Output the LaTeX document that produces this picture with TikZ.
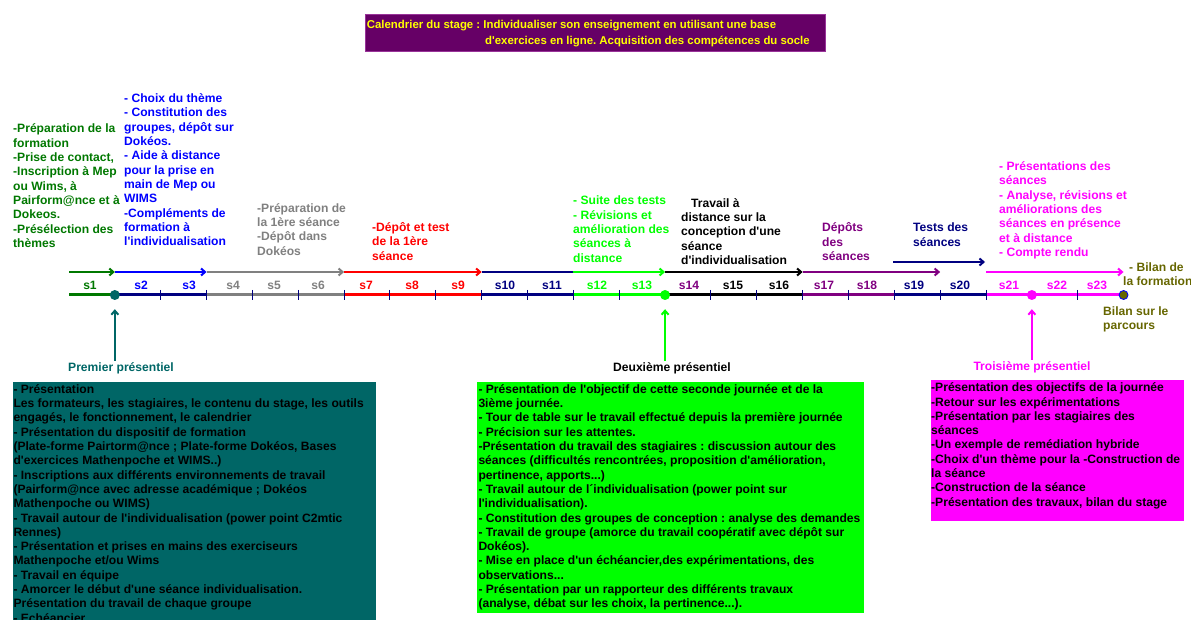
\documentclass[tikz,border=0pt]{standalone}
\usepackage{fontspec}
\setmainfont{Liberation Sans}[Ligatures=TeXOff]
\usetikzlibrary{arrows.meta}
\frenchspacing
\definecolor{tgreen}{RGB}{0,120,0}
\definecolor{tblue}{RGB}{0,0,255}
\definecolor{tgray}{RGB}{128,128,128}
\definecolor{tred}{RGB}{255,0,0}
\definecolor{tnavy}{RGB}{0,0,128}
\definecolor{tlime}{RGB}{0,255,0}
\definecolor{tpurple}{RGB}{128,0,128}
\definecolor{tmagenta}{RGB}{255,0,255}
\definecolor{tolive}{RGB}{102,102,0}
\definecolor{tteal}{RGB}{0,102,102}
\definecolor{ttitle}{RGB}{102,0,102}
\definecolor{ttitleborder}{RGB}{153,51,153}
\definecolor{tyellow}{RGB}{255,255,0}

\def\pas{45.85}

\begin{document}
\begin{tikzpicture}[x=1pt, y=-1pt,
    every node/.style={inner sep=0pt, font=\fontsize{12.1}{14.3}\selectfont\bfseries},
    txt/.style={anchor=base west, align=left},
    sem/.style={anchor=base},
    tl/.style={line width=3pt},
    fleche/.style={line width=2pt, -{Straight Barb[length=4pt,width=7pt]}},
    montee/.style={line width=2pt, -{Straight Barb[length=4pt,width=7pt]}, shorten >=9pt, shorten <=1pt},
    point/.style={circle, minimum size=10pt}]
  \useasboundingbox (0,0) rectangle (1191,620);
  \foreach \k in {0,...,23} {
    \coordinate (t\k) at ({69+\pas*\k},295);
    \coordinate (a\k) at ({69+\pas*\k},272);
  }
  \coordinate (ts1) at (893,262);
  \coordinate (ts2) at (985,262);

  \filldraw[fill=ttitle, draw=ttitleborder] (365,14) rectangle (825,51.7);
  \node[txt, text=tyellow, font=\fontsize{11.4}{16.7}\selectfont\bfseries] (titre) at (366.7,45) {Calendrier du stage : Individualiser son enseignement en utilisant une base\\\hspace*{118.3pt}d'exercices en ligne. Acquisition des compétences du socle};

  \node[txt, tgreen] (prep) at (13,247.4) {-Préparation de la\\formation\\-Prise de contact,\\-Inscription à Mep\\ou Wims, à\\Pairform@nce et à\\Dokeos.\\-Présélection des\\thèmes};
  \node[txt, tblue] (theme) at (124,245.7) {- Choix du thème\\- Constitution des\\groupes, dépôt sur\\Dokéos.\\- Aide à distance\\pour la prise en\\main de Mep ou\\WIMS\\-Compléments de\\formation à\\l'individualisation};
  \node[txt, tgray] (prem) at (257,255.2) {-Préparation de\\la 1ère séance\\-Dépôt dans\\Dokéos};
  \node[txt, tred] (depot) at (372,260.3) {-Dépôt et test\\de la 1ère\\séance};
  \node[txt, tlime] (suite) at (573,262.2) {- Suite des tests\\- Révisions et\\amélioration des\\séances à\\distance};
  \node[txt] (travail) at (681,264.5) {\hspace*{10pt}Travail à\\distance sur la\\conception d'une\\séance\\d'individualisation};
  \node[txt, tpurple] (depots) at (822,260.6) {Dépôts\\des\\séances};
  \node[txt, tnavy] (tests) at (913,246.3) {Tests des\\séances};
  \node[txt, tmagenta] (presseances) at (999,256.5) {- Présentations des\\séances\\- Analyse, révisions et\\améliorations des\\séances en présence\\et à distance\\- Compte rendu};
  \node[txt, tolive] (bilanform) at (1123,286) {\hspace*{6pt}- Bilan de\\la formation};
  \node[txt, tolive] (bilanparc) at (1103,330) {Bilan sur le\\parcours};

  \draw[fleche, tgreen] (a0) -- (a1);
  \draw[fleche, tblue] (a1) -- (a3);
  \draw[fleche, tgray] (a3) -- (a6);
  \draw[fleche, tred] (a6) -- (a9);
  \draw[line width=2pt, tnavy] (a9) -- (a11);
  \draw[fleche, tlime] (a11) -- (a13);
  \draw[fleche, black] (a13) -- (a16);
  \draw[fleche, tpurple] (a16) -- (a19);
  \draw[fleche, tnavy] (ts1) -- (ts2);
  \draw[fleche, tmagenta] (a20) -- (a23);

  \draw[tl, tgreen] (t0) -- (t1);
  \draw[tl, tnavy] (t1) -- (t3);
  \draw[tl, tgray] (t3) -- (t6);
  \draw[tl, tred] (t6) -- (t9);
  \draw[tl, tnavy] (t9) -- (t11);
  \draw[tl, tlime] (t11) -- (t13);
  \draw[tl, black] (t13) -- (t16);
  \draw[tl, tpurple] (t16) -- (t18);
  \draw[tl, tnavy] (t18) -- (t20);
  \draw[tl, tmagenta] (t20) -- (t23);
  \foreach \k in {2,...,12,14,15,...,20,22}
    \draw[tnavy, line width=1pt] ([yshift=5pt]t\k) -- ([yshift=-5pt]t\k);

  \foreach \n/\x/\c in {1/90/tgreen, 2/141/tblue, 3/189/tblue, 4/233/tgray, 5/274/tgray, 6/318/tgray, 7/366/tred, 8/412/tred, 9/458/tred, 10/505/tnavy, 11/552/tnavy, 12/597/tlime, 13/642/tlime, 14/689/tpurple, 15/733/black, 16/779/black, 17/824/tpurple, 18/867/tpurple, 19/914/tnavy, 20/960/tnavy, 21/1009/tmagenta, 22/1057/tmagenta, 23/1097/tmagenta}
    \node[sem, text=\c] (s\n) at (\x,290) {s\n};

  \node[point, fill=tteal] (d1) at (t1) {};
  \node[point, fill=tlime] (d2) at (t13) {};
  \node[point, fill=tmagenta] (d3) at (t21) {};
  \node[point, minimum size=9pt, fill=tolive, draw=tblue, line width=0.8pt] (fin) at (t23) {};

  \node[sem, tteal] (p1) at (121,371) {Premier présentiel};
  \node[sem] (p2) at (672,371) {Deuxième présentiel};
  \node[sem, tmagenta] (p3) at (1032,370) {Troisième présentiel};
  \draw[montee, tteal] (d1 |- p1.north) -- (d1);
  \draw[montee, tlime] (d2 |- p2.north) -- (d2);
  \draw[montee, tmagenta] (d3 |- p3.north) -- (d3);

  \fill[tteal] (12.7,381.7) rectangle (376,625);
  \node[txt] (jour1) at (13.3,622.1) {- Présentation\\Les formateurs, les stagiaires, le contenu du stage, les outils\\engagés, le fonctionnement, le calendrier\\- Présentation du dispositif de formation\\(Plate-forme Pairtorm@nce ; Plate-forme Dokéos, Bases\\d'exercices Mathenpoche et WIMS..)\\- Inscriptions aux différents environnements de travail\\(Pairform@nce avec adresse académique ; Dokéos\\Mathenpoche ou WIMS)\\- Travail autour de l'individualisation (power point C2mtic\\Rennes)\\- Présentation et prises en mains des exerciseurs\\Mathenpoche et/ou Wims\\- Travail en équipe\\- Amorcer le début d'une séance individualisation.\\Présentation du travail de chaque groupe\\- Echéancier};

  \fill[tlime] (477.3,382.3) rectangle (864.3,612.7);
  \node[txt] (jour2) at (478.3,607.8) {- Présentation de l'objectif de cette seconde journée et de la\\3ième journée.\\- Tour de table sur le travail effectué depuis la première journée\\- Précision sur les attentes.\\-Présentation du travail des stagiaires : discussion autour des\\séances (difficultés rencontrées, proposition d'amélioration,\\pertinence, apports...)\\- Travail autour de l´individualisation (power point sur\\l'individualisation).\\- Constitution des groupes de conception : analyse des demandes\\- Travail de groupe (amorce du travail coopératif avec dépôt sur\\Dokéos).\\- Mise en place d'un échéancier,des expérimentations, des\\observations...\\- Présentation par un rapporteur des différents travaux\\ (analyse, débat sur les choix, la pertinence...).};

  \fill[tmagenta] (930.7,380) rectangle (1184,521);
  \node[txt] (jour3) at (931,506.1) {-Présentation des objectifs de la journée\\-Retour sur les expérimentations\\-Présentation par les stagiaires des\\séances\\-Un exemple de remédiation hybride\\-Choix d'un thème pour la -Construction de\\la séance\\-Construction de la séance\\-Présentation des travaux, bilan du stage};
\end{tikzpicture}
\end{document}
